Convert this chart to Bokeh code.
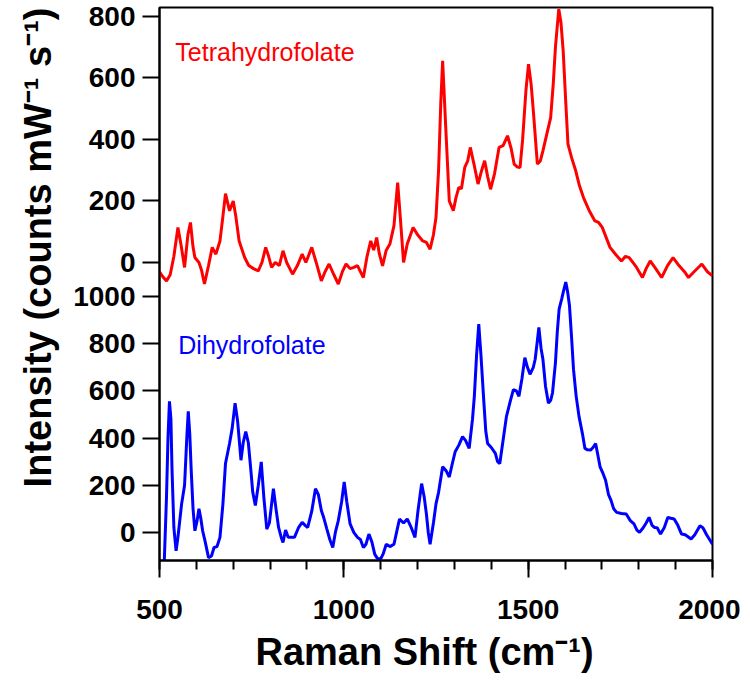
from bokeh.plotting import figure
from bokeh.models import Range1d, FixedTicker, Label, Title
from bokeh.embed import file_html
from bokeh.resources import INLINE

# ---------------- data ----------------
thf_x = [500, 508, 519, 529, 539, 550, 558, 568, 577, 584, 591, 596, 607, 614, 622, 633, 643, 653, 664, 672,
         679, 690, 700, 707, 716, 731, 742, 755, 768, 778, 788, 796, 804, 814, 825, 835, 845, 861, 874, 887,
         897, 913, 925, 939, 949, 960, 973, 985, 996, 1006, 1017, 1027, 1037, 1053, 1063, 1073, 1081, 1089, 1096, 1105,
         1115, 1125, 1136, 1146, 1153, 1162, 1172, 1188, 1200, 1214, 1224, 1234, 1243, 1250, 1257, 1263, 1268, 1276, 1286, 1297,
         1304, 1312, 1319, 1328, 1336, 1343, 1353, 1364, 1374, 1382, 1390, 1398, 1409, 1421, 1432, 1444, 1454, 1462, 1471, 1478,
         1485, 1494, 1501, 1508, 1514, 1525, 1533, 1540, 1551, 1561, 1568, 1574, 1583, 1589, 1595, 1602, 1608, 1618, 1629, 1639,
         1650, 1665, 1681, 1691, 1701, 1712, 1722, 1738, 1753, 1764, 1774, 1784, 1794, 1810, 1820, 1831, 1846, 1862, 1878, 1893,
         1909, 1924, 1935, 1950, 1971, 1986, 2000]
thf_y = [-30, -45, -60, -40, 20, 114, 60, -16, 90, 130, 50, 16, 0, -25, -70, -10, 49, 27, 70, 150,
         224, 168, 200, 150, 70, 16, -10, -20, -27, 0, 49, 20, -16, 0, -10, 38, 0, -38, -10, 27,
         0, 49, 0, -60, -30, -5, -40, -70, -30, -5, -20, -16, -10, -49, 20, 70, 40, 81, 30, -11,
         40, 60, 120, 260, 150, 0, 60, 114, 90, 70, 65, 43, 90, 146, 300, 520, 656, 450, 200, 168,
         210, 244, 240, 309, 330, 374, 320, 255, 300, 331, 280, 238, 290, 374, 380, 412, 370, 320, 310, 309,
         400, 560, 645, 580, 493, 320, 330, 363, 420, 471, 580, 700, 824, 780, 688, 520, 385, 340, 298, 250,
         211, 170, 135, 130, 114, 80, 49, 25, 5, 20, 16, 0, -16, -49, -20, 5, -20, -49, -10, 16,
         -10, -30, -49, -30, -5, -30, -43]

dhf_x = [500, 513, 519, 523, 527, 531, 534, 539, 545, 550, 560, 568, 574, 578, 582, 586, 591, 596, 602, 607,
         612, 617, 624, 633, 641, 648, 656, 664, 672, 679, 690, 697, 705, 712, 721, 727, 734, 741, 747, 753,
         760, 768, 776, 783, 791, 798, 809, 816, 823, 830, 835, 842, 849, 859, 866, 877, 887, 895, 902, 913,
         923, 931, 939, 946, 954, 962, 970, 977, 985, 994, 1001, 1008, 1017, 1027, 1037, 1045, 1053, 1060, 1068, 1076,
         1084, 1091, 1100, 1107, 1115, 1125, 1136, 1143, 1151, 1162, 1172, 1183, 1193, 1201, 1211, 1218, 1224, 1229, 1234, 1243,
         1250, 1257, 1268, 1278, 1286, 1294, 1302, 1312, 1322, 1330, 1340, 1349, 1354, 1360, 1366, 1372, 1380, 1385, 1390, 1400,
         1411, 1417, 1423, 1431, 1441, 1452, 1460, 1468, 1475, 1483, 1491, 1498, 1505, 1514, 1519, 1524, 1529, 1535, 1540, 1547,
         1555, 1561, 1566, 1574, 1579, 1584, 1591, 1597, 1602, 1607, 1612, 1618, 1623, 1630, 1638, 1647, 1654, 1661, 1669, 1676,
         1683, 1690, 1695, 1703, 1710, 1718, 1725, 1732, 1740, 1753, 1766, 1777, 1787, 1795, 1802, 1812, 1820, 1828, 1836, 1843,
         1850, 1859, 1869, 1879, 1887, 1896, 1906, 1916, 1926, 1942, 1952, 1966, 1974, 1984, 2000]
dhf_y = [-200, -121, 150, 400, 556, 480, 264, 20, -78, -20, 121, 200, 400, 513, 420, 264, 100, 7, 50, 100,
         60, 7, -40, -107, -100, -64, -60, -21, 120, 292, 377, 440, 548, 470, 306, 380, 427, 380, 278, 170,
         114, 200, 299, 150, 14, 40, 185, 100, 21, -20, -43, 10, -20, -20, -21, 20, 43, 30, 21, 90,
         185, 160, 93, 60, 14, -30, -64, 0, 50, 130, 214, 130, 36, 0, -21, -30, -64, -50, -7, -40,
         -93, -110, -112, -90, -50, -60, -50, 0, 57, 40, 57, 20, -21, 90, 207, 150, 78, 0, -50, 40,
         121, 170, 278, 260, 235, 290, 342, 370, 406, 390, 356, 480, 577, 750, 883, 750, 548, 430, 377, 360,
         335, 300, 292, 380, 491, 560, 605, 600, 577, 650, 741, 700, 670, 700, 734, 800, 869, 780, 734, 620,
         548, 560, 591, 720, 850, 947, 990, 1030, 1061, 1020, 962, 820, 691, 580, 491, 420, 356, 350, 349, 360,
         377, 320, 278, 250, 221, 160, 135, 100, 85, 80, 78, 50, 36, 10, 0, 20, 40, 64, 30, 21,
         20, -7, 20, 64, 60, 57, 30, -7, -10, -28, -10, 28, 20, -10, -50]

x_major = [500, 1000, 1500, 2000]
x_minor = list(range(500, 2001, 100))
top_ticks = [0, 200, 400, 600, 800]
bot_ticks = [0, 200, 400, 600, 800, 1000]

TOP_START, TOP_END = -969.0, 829.0
BOT_START, BOT_END = -119.0, 2225.0

FONT = "Liberation Sans"


def top_to_main(v):
    return BOT_START + (v - TOP_START) * (BOT_END - BOT_START) / (TOP_END - TOP_START)


p = figure(width=740, height=686, output_backend="svg", toolbar_location=None,
           x_range=Range1d(500, 2000), y_range=Range1d(BOT_START, BOT_END),
           min_border_left=159, min_border_right=28, min_border_top=7, min_border_bottom=126,
           background_fill_color="white", border_fill_color="white")
p.extra_y_ranges = {"top": Range1d(TOP_START, TOP_END)}

p.xgrid.visible = False
p.ygrid.visible = False
p.outline_line_color = "black"
p.outline_line_width = 2
p.outline_line_alpha = 1.0

p.line(thf_x, thf_y, y_range_name="top", line_color="#ff0000", line_width=3)
p.line(dhf_x, dhf_y, line_color="#0000ff", line_width=3)

# y ticks: bottom panel natively, top panel mapped into the main range
top_pos = [round(top_to_main(v), 4) for v in top_ticks]
ticks = [float(v) for v in bot_ticks] + top_pos
overrides = {float(v): str(v) for v in bot_ticks}
for v, pos in zip(top_ticks, top_pos):
    overrides[pos] = str(v)

yax = p.yaxis[0]
yax.ticker = FixedTicker(ticks=ticks, minor_ticks=[])
yax.major_label_overrides = overrides
xax = p.xaxis[0]
xax.ticker = FixedTicker(ticks=x_major, minor_ticks=x_minor)

for ax in (xax, yax):
    ax.axis_line_width = 2
    ax.axis_line_color = "black"
    ax.major_tick_line_width = 2
    ax.minor_tick_line_width = 2
    ax.major_tick_in = 0
    ax.major_tick_out = 17
    ax.minor_tick_in = 0
    ax.minor_tick_out = 9
    ax.major_label_text_font = FONT
    ax.major_label_text_font_style = "bold"
    ax.major_label_text_font_size = "28px"
    ax.major_label_text_color = "black"

yax.major_label_standoff = 7
xax.major_label_standoff = 22

xtitle = Title(text="Raman Shift (cm⁻¹)", align="left", offset=96, standoff=15,
               text_font=FONT, text_font_style="bold", text_font_size="38px", text_color="black")
p.add_layout(xtitle, "below")

ytitle = Title(text="Intensity (counts mW⁻¹ s⁻¹)", align="right", offset=0, standoff=24,
               text_font=FONT, text_font_style="bold", text_font_size="38px", text_color="black")
p.add_layout(ytitle, "left")

p.add_layout(Label(x=543, y=683, y_range_name="top", text="Tetrahydrofolate",
                   text_align="left", text_baseline="middle", text_font=FONT,
                   text_font_size="25px", text_color="#ff0000"))
p.add_layout(Label(x=551, y=795, text="Dihydrofolate",
                   text_align="left", text_baseline="middle", text_font=FONT,
                   text_font_size="25px", text_color="#0000ff"))

open("out.html", "w").write(file_html(p, INLINE))
